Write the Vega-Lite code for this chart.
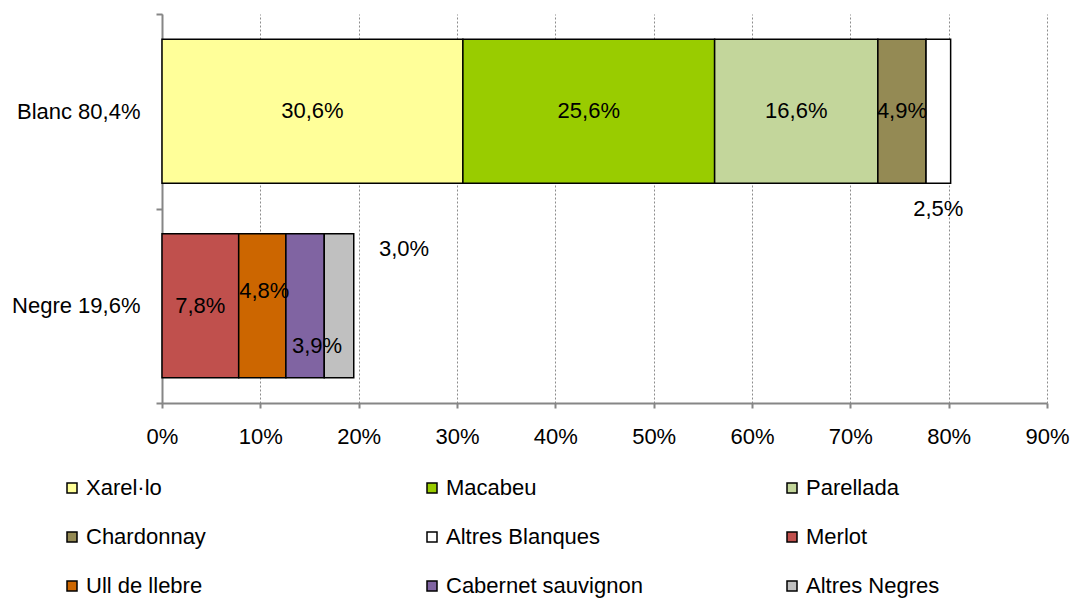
{
  "$schema": "https://vega.github.io/schema/vega-lite/v6.json",
  "width": 885,
  "height": 389,
  "autosize": {"type": "none"},
  "padding": {"left": 162, "top": 14, "right": 28, "bottom": 196},
  "config": {"view": {"stroke": null}, "font": "Liberation Sans"},
  "data": {"values": [
    {"group": "Blanc 80,4%", "variety": "Xarel·lo", "value": 30.6, "label": "30,6%", "idx": 1},
    {"group": "Blanc 80,4%", "variety": "Macabeu", "value": 25.6, "label": "25,6%", "idx": 2},
    {"group": "Blanc 80,4%", "variety": "Parellada", "value": 16.6, "label": "16,6%", "idx": 3},
    {"group": "Blanc 80,4%", "variety": "Chardonnay", "value": 4.9, "label": "4,9%", "idx": 4},
    {"group": "Blanc 80,4%", "variety": "Altres Blanques", "value": 2.5, "label": "2,5%", "idx": 5},
    {"group": "Negre 19,6%", "variety": "Merlot", "value": 7.8, "label": "7,8%", "idx": 6},
    {"group": "Negre 19,6%", "variety": "Ull de llebre", "value": 4.8, "label": "4,8%", "idx": 7},
    {"group": "Negre 19,6%", "variety": "Cabernet sauvignon", "value": 3.9, "label": "3,9%", "idx": 8},
    {"group": "Negre 19,6%", "variety": "Altres Negres", "value": 3.0, "label": "3,0%", "idx": 9}
  ]},
  "transform": [
    {"stack": "value", "groupby": ["group"], "sort": [{"field": "idx", "order": "ascending"}], "as": ["x0", "x1"]},
    {"calculate": "(datum.x0 + datum.x1) / 2", "as": "xm"}
  ],
  "encoding": {
    "y": {
      "field": "group", "type": "nominal", "sort": ["Blanc 80,4%", "Negre 19,6%"],
      "scale": {"paddingInner": 0, "paddingOuter": 0},
      "axis": {
        "title": null, "tickBand": "extent", "domainColor": "#868686", "domainWidth": 2,
        "tickColor": "#868686", "tickWidth": 2, "tickSize": 6, "labelFontSize": 22,
        "labelColor": "#000000", "labelPadding": 16, "grid": false
      }
    }
  },
  "layer": [
    {
      "mark": {"type": "bar", "stroke": "#000000", "strokeWidth": 1.5, "height": {"band": 0.74}},
      "encoding": {
        "x": {
          "field": "x0", "type": "quantitative",
          "scale": {"domain": [0, 90], "nice": false},
          "axis": {
            "title": null, "values": [0, 10, 20, 30, 40, 50, 60, 70, 80, 90],
            "labelExpr": "datum.value + '%'", "labelFlush": false, "grid": true, "gridDash": [2, 2],
            "gridColor": "#8c8c8c", "gridWidth": 1, "domainColor": "#868686", "domainWidth": 2,
            "tickColor": "#868686", "tickWidth": 2, "tickSize": 5, "labelFontSize": 22,
            "labelColor": "#000000", "labelPadding": 18
          }
        },
        "x2": {"field": "x1"},
        "color": {
          "field": "variety", "type": "nominal",
          "scale": {
            "domain": ["Xarel·lo", "Macabeu", "Parellada", "Chardonnay", "Altres Blanques", "Merlot", "Ull de llebre", "Cabernet sauvignon", "Altres Negres"],
            "range": ["#FFFF99", "#99CC00", "#C3D69B", "#948A54", "#FFFFFF", "#C0504D", "#CC6600", "#8064A2", "#C0C0C0"]
          },
          "legend": {
            "title": null, "orient": "none", "legendX": -101, "legendY": 463,
            "direction": "horizontal", "columns": 3, "gridAlign": "all",
            "columnPadding": 138, "rowPadding": 27, "symbolType": "square", "symbolSize": 100,
            "symbolStrokeColor": "#000000", "symbolStrokeWidth": 1.5, "symbolOpacity": 1,
            "labelFontSize": 22, "labelColor": "#000000", "labelOffset": 3, "labelLimit": 300, "padding": 0
          }
        }
      }
    },
    {
      "transform": [{"filter": "indexof(['Xarel·lo','Macabeu','Parellada','Chardonnay','Merlot'], datum.variety) >= 0"}],
      "mark": {"type": "text", "fontSize": 22, "color": "#000000"},
      "encoding": {"x": {"field": "xm", "type": "quantitative"}, "text": {"field": "label"}}
    },
    {
      "transform": [{"filter": "datum.variety == 'Altres Blanques'"}],
      "mark": {"type": "text", "fontSize": 22, "color": "#000000", "dy": 98},
      "encoding": {"x": {"field": "xm", "type": "quantitative"}, "text": {"field": "label"}}
    },
    {
      "transform": [{"filter": "datum.variety == 'Ull de llebre'"}],
      "mark": {"type": "text", "fontSize": 22, "color": "#000000", "dx": 2, "dy": -15},
      "encoding": {"x": {"field": "xm", "type": "quantitative"}, "text": {"field": "label"}}
    },
    {
      "transform": [{"filter": "datum.variety == 'Cabernet sauvignon'"}],
      "mark": {"type": "text", "fontSize": 22, "color": "#000000", "dx": 12, "dy": 40},
      "encoding": {"x": {"field": "xm", "type": "quantitative"}, "text": {"field": "label"}}
    },
    {
      "transform": [{"filter": "datum.variety == 'Altres Negres'"}],
      "mark": {"type": "text", "fontSize": 22, "color": "#000000", "dx": 65, "dy": -57},
      "encoding": {"x": {"field": "xm", "type": "quantitative"}, "text": {"field": "label"}}
    }
  ]
}
